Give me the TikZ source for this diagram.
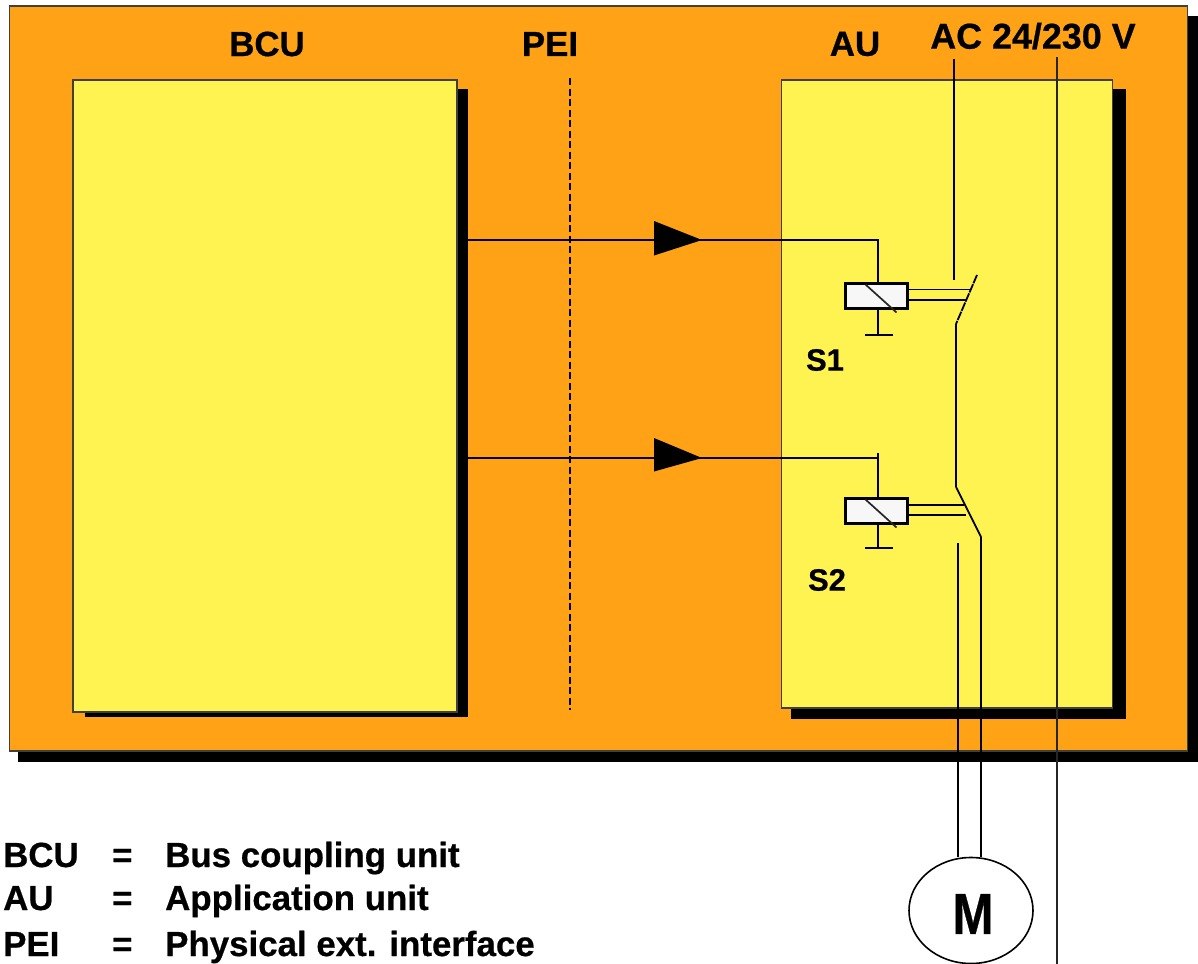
\documentclass[tikz,border=0pt]{standalone}
\usepackage{fontspec}
\usetikzlibrary{shapes.geometric}
\setmainfont[BoldFeatures={FakeBold=0.6}]{Liberation Sans}
\definecolor{panelorange}{HTML}{FFA216}
\definecolor{unityellow}{HTML}{FFF352}
\tikzset{
  boxnode/.style={draw=black!75,line width=1.3pt,anchor=north west,inner sep=0pt,outer sep=0pt},
  shadowbox/.style={fill=black,draw=none},
  wire/.style={draw=black,line width=1.8pt},
  thinwire/.style={draw=black!85,line width=1.6pt},
  relaybox/.style={boxnode,fill=white!97!black,draw=black,line width=2.2pt,minimum width=62bp,minimum height=25bp},
  lbl/.style={font=\fontsize{35}{35}\selectfont\bfseries,text=black,inner sep=0pt},
  leglbl/.style={lbl,anchor=base west,font=\fontsize{35}{35}\selectfont\bfseries},
  flowtip/.style={fill=black,draw=none}
}
\begin{document}
\begin{tikzpicture}[x=1bp,y=-1bp]
\useasboundingbox (0,0) rectangle (1198,964);
% outer panel
\fill[shadowbox] (18,16) rectangle (1198,762);
\node[boxnode,fill=panelorange,minimum width=1178bp,minimum height=745bp] (panel) at (9.5,6) {};
% BCU
\fill[shadowbox] (85,89) rectangle (468,717);
\node[boxnode,fill=unityellow,minimum width=384bp,minimum height=632bp] (bcu) at (73,80) {};
% AU
\fill[shadowbox] (791,89) rectangle (1126,719);
\node[boxnode,fill=unityellow,minimum width=331bp,minimum height=628bp] (au) at (781.5,80) {};
% titles
\node[lbl] (tbcu) at (267,44) {BCU};
\node[lbl] (tpei) at (550,44) {PEI};
\node[lbl] (tau) at (855,44) {AU};
\node[lbl,font=\fontsize{36}{36}\selectfont\bfseries] (tac) at (1033,36) {AC 24/230 V};
% PEI dashed line
\coordinate (peiT) at (570,78);
\coordinate (peiB) at (570,710);
\draw[black,line width=1.4pt,dash pattern=on 7bp off 3.5bp] (peiT) -- (peiB);
% relays
\node[relaybox] (s1) at (845.5,283.5) {};
\node[relaybox] (s2) at (845.5,498.5) {};
\draw[line width=1.7pt,black!85] (s1.north west) ++(20,1) -- ++(31,28);
\draw[line width=1.7pt,black!85] (s2.north west) ++(20,1) -- ++(31,28);
% signal lines
\coordinate (o1) at (468,240);
\coordinate (c1) at (878,240);
\coordinate (o2) at (468,458);
\coordinate (c2) at (878,458);
\coordinate (c2top) at (878,453);
\draw[wire] (o1) -- (c1) -- (c1 |- s1.north);
\draw[wire] (o2) -- (c2);
\draw[wire] (c2top) -- (c2top |- s2.north);
% arrowheads
\fill[flowtip] (654,221) -- (702,240) -- (654,255.5) -- cycle;
\fill[flowtip] (654,438) -- (702,458) -- (654,471.5) -- cycle;
% grounds
\coordinate (g1) at (878,335);
\coordinate (g1l) at (865,335);
\coordinate (g1r) at (893,335);
\coordinate (g2) at (878,548);
\coordinate (g2l) at (865,548);
\coordinate (g2r) at (893,548);
\draw[wire] (s1.south -| g1) -- (g1);
\draw[wire] (g1l) -- (g1r);
\draw[wire] (s2.south -| g2) -- (g2);
\draw[wire] (g2l) -- (g2r);
% mechanical links
\coordinate (m1a) at (970,289.5);
\coordinate (m1b) at (966,300);
\coordinate (m2a) at (964,505);
\coordinate (m2b) at (966,515);
\draw[wire] (s1.east |- m1a) -- (m1a);
\draw[wire] (s1.east |- m1b) -- (m1b);
\draw[wire] (s2.east |- m2a) -- (m2a);
\draw[wire] (s2.east |- m2b) -- (m2b);
% motor
\node[draw=black,line width=1.6pt,fill=white,ellipse,inner sep=0pt,minimum width=124bp,minimum height=106bp] (motor) at (971,910.5) {};
\node[inner sep=0pt,font=\fontsize{58}{58}\selectfont\bfseries] (mlabel) at (973,914) {\scalebox{0.85}[1]{M}};
% supply wires and switches
\coordinate (acT) at (954,59);
\coordinate (acS) at (954,280);
\coordinate (nT) at (1057,57);
\coordinate (nB) at (1057,964);
\coordinate (sw1a) at (977,275);
\coordinate (sw1b) at (956,324);
\coordinate (sw2a) at (956,487);
\coordinate (sw2b) at (981,537);
\coordinate (outA) at (958,543);
\draw[wire] (acT) -- (acS);
\draw[thinwire] (nT) -- (nB);
\draw[wire,dash pattern=on 9bp off 1bp] (sw1a) -- (sw1b);
\draw[wire] (sw1b) -- (sw2a);
\draw[wire] (sw2a) -- (sw2b);
\draw[wire] (sw2b) -- (sw2b |- motor.north);
\draw[wire] (outA) -- (outA |- motor.north);
% device labels
\node[lbl,font=\fontsize{31}{31}\selectfont\bfseries] (ls1) at (825,360) {S1};
\node[lbl,font=\fontsize{31}{31}\selectfont\bfseries] (ls2) at (827,580) {S2};
% legend
\node[leglbl] (l1a) at (3,867) {BCU};
\node[leglbl] (l1b) at (112,867) {=};
\node[leglbl] (l1c) at (165,867) {Bus coupling unit};
\node[leglbl] (l2a) at (3,910) {AU};
\node[leglbl] (l2b) at (112,910) {=};
\node[leglbl] (l2c) at (165,910) {Application unit};
\node[leglbl] (l3a) at (3,956) {PEI};
\node[leglbl] (l3b) at (112,956) {=};
\node[leglbl] (l3c) at (165,956) {Physical ext. interface};
\end{tikzpicture}
\end{document}
